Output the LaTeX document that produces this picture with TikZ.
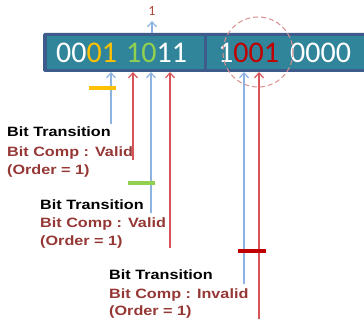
\documentclass[tikz,border=0pt]{standalone}
\usepackage{fontspec}
\usetikzlibrary{arrows.meta}
\newfontfamily\digitfont{Carlito}
\newfontfamily\lblfont[FakeStretch=1.2]{Liberation Sans}
\definecolor{barborder}{HTML}{3D5C8C}
\definecolor{barfill}{HTML}{31859B}
\definecolor{arrblue}{HTML}{8DB3E2}
\definecolor{arrred}{HTML}{D9535A}
\definecolor{digorange}{HTML}{FFC000}
\definecolor{diggreen}{HTML}{92D050}
\definecolor{digred}{HTML}{C00000}
\definecolor{lblred}{HTML}{953734}
\definecolor{toplbl}{HTML}{B0473C}
\definecolor{circred}{HTML}{DC8E8E}
\tikzset{
  digits/.style={anchor=base west, inner sep=0pt, font=\digitfont\fontsize{30}{30}\selectfont, text=white},
  lbl/.style={anchor=west, inner sep=0pt, font=\lblfont\bfseries\fontsize{13.5}{14}\selectfont},
  upblue/.style={draw=arrblue, line width=1.2pt, -{Straight Barb[length=5pt,width=9pt]}},
  upred/.style={draw=arrred, line width=1.2pt, -{Straight Barb[length=5pt,width=9pt]}},
  marker/.style={line width=3.5pt},
}
\begin{document}
\begin{tikzpicture}[x=1pt,y=-1pt]
\useasboundingbox (0,0) rectangle (364,321);
\clip (0,0) rectangle (364,321);
% bar
\fill[barborder, rounded corners=1.5pt] (43,33) rectangle (370,72);
\fill[barfill] (47,36) rectangle (204,69);
\fill[barfill] (207,36) rectangle (370,69);
% digits
\node[digits] (g1) at (56,63) {00\textcolor{digorange}{01}};
\node[digits] (g2) at (126,63) {\textcolor{diggreen}{10}11};
\node[digits] (g3) at (218,63) {1\textcolor{digred}{001}};
\node[digits] (g4) at (290,63) {0000};
% dashed circle
\draw[circred, line width=1pt, dash pattern=on 5pt off 3pt] (258,52) circle (35);
% top arrow and label
\coordinate (topbase) at (152,33);
\coordinate (toptip) at (152,21);
\draw[upblue] (topbase) -- (toptip);
\node[inner sep=0pt, font=\digitfont\fontsize{14}{14}\selectfont, text=toplbl] (one) at (152,11) {1};
% arrows from below
\coordinate (a1s) at (111,124); \coordinate (a1e) at (111,72);
\coordinate (a2s) at (133,160); \coordinate (a2e) at (133,72);
\coordinate (a3s) at (151,213); \coordinate (a3e) at (151,72);
\coordinate (a4s) at (170,248); \coordinate (a4e) at (170,72);
\coordinate (a5s) at (244,284); \coordinate (a5e) at (244,72);
\coordinate (a6s) at (259,319); \coordinate (a6e) at (259,72);
\draw[upblue] (a1s) -- (a1e);
\draw[upred] (a2s) -- (a2e);
\draw[upblue] (a3s) -- (a3e);
\draw[upred] (a4s) -- (a4e);
\draw[upblue] (a5s) -- (a5e);
\draw[upred] (a6s) -- (a6e);
% markers
\coordinate (m1a) at (89,88); \coordinate (m1b) at (116,88);
\coordinate (m2a) at (128,183); \coordinate (m2b) at (155,183);
\coordinate (m3a) at (238,251); \coordinate (m3b) at (266,251);
\draw[marker, digorange] (m1a) -- (m1b);
\draw[marker, diggreen] (m2a) -- (m2b);
\draw[marker, digred] (m3a) -- (m3b);
% labels block 1
\node[lbl] (t1a) at (7,132) {Bit Transition};
\node[lbl, text=lblred] (t1b) at (7,153) {Bit Comp : Valid};
\node[lbl, text=lblred] (t1c) at (7,171) {(Order = 1)};
% block 2
\node[lbl] (t2a) at (40,205) {Bit Transition};
\node[lbl, text=lblred] (t2b) at (40,224) {Bit Comp : Valid};
\node[lbl, text=lblred] (t2c) at (40,242) {(Order = 1)};
% block 3
\node[lbl] (t3a) at (109,275) {Bit Transition};
\node[lbl, text=lblred] (t3b) at (109,295) {Bit Comp : Invalid};
\node[lbl, text=lblred] (t3c) at (109,312) {(Order = 1)};
\end{tikzpicture}
\end{document}
